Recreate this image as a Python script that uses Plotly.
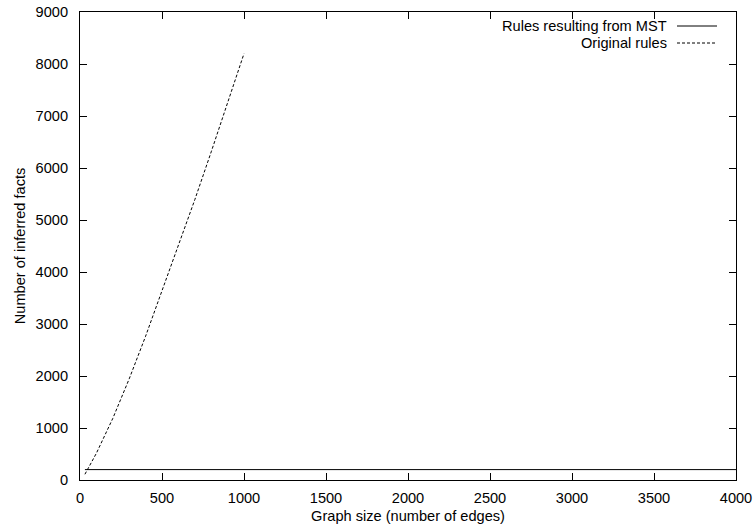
import plotly.graph_objects as go

# Data
mst_edges = [30, 500, 1000, 1500, 2000, 2500, 3000, 3500, 4000]
mst_facts = [200, 200, 200, 200, 200, 200, 200, 200, 200]

orig_edges = [30, 100, 200, 300, 400, 500, 600, 700, 800, 900, 1000]
orig_facts = [110, 515, 1185, 1945, 2765, 3640, 4480, 5390, 6310, 7260, 8200]

x_ticks = [0, 500, 1000, 1500, 2000, 2500, 3000, 3500, 4000]
y_ticks = [0, 1000, 2000, 3000, 4000, 5000, 6000, 7000, 8000, 9000]

series_names = ["Rules resulting from MST", "Original rules"]

FONT = "Liberation Sans, Arial, Helvetica, sans-serif"
FS = 14.6

fig = go.Figure()
fig.add_trace(go.Scatter(x=mst_edges, y=mst_facts, mode="lines", name=series_names[0],
                         line=dict(color="black", width=1), showlegend=False))
fig.add_trace(go.Scatter(x=orig_edges, y=orig_facts, mode="lines", name=series_names[1],
                         line=dict(color="black", width=1, dash="3px,2px"), showlegend=False))

axis_common = dict(showgrid=False, zeroline=False, showline=True, linecolor="black", linewidth=1,
                   mirror="ticks", ticks="inside", ticklen=7, tickcolor="black", tickwidth=1,
                   automargin=False,
                   tickfont=dict(family=FONT, size=FS, color="black"))

fig.update_xaxes(range=[0, 4000], tickvals=x_ticks, ticktext=[str(v) for v in x_ticks],
                 title=dict(text="Graph size (number of edges)", font=dict(family=FONT, size=FS, color="black"),
                            standoff=6),
                 ticklabelstandoff=4, **axis_common)
fig.update_yaxes(range=[0, 9000], tickvals=y_ticks, ticktext=[str(v) for v in y_ticks],
                 title=dict(text="Number of inferred facts", font=dict(family=FONT, size=FS, color="black"),
                            standoff=6),
                 ticklabelstandoff=8, **axis_common)

# gnuplot-style legend: text right-aligned, sample line to the right
legend_rows = [(series_names[0], "solid"), (series_names[1], "3px,2px")]
for i, (name, dash) in enumerate(legend_rows):
    yp = 1 - (14 + 17 * i) / 468.0
    fig.add_annotation(x=(667 - 80) / 656.0, y=yp, xref="paper", yref="paper", text=name, showarrow=False,
                       xanchor="right", yanchor="middle", xshift=2,
                       font=dict(family=FONT, size=FS, color="black"))
    fig.add_shape(type="line", xref="paper", yref="paper", x0=(677 - 80) / 656.0, x1=(717 - 80) / 656.0,
                  y0=yp, y1=yp, line=dict(color="black", width=1, dash=dash))

fig.update_layout(width=755, height=527, margin=dict(l=80, r=19, t=12, b=47),
                  plot_bgcolor="white", paper_bgcolor="white",
                  font=dict(family=FONT, size=FS, color="black"))

fig.write_html("out.html")
